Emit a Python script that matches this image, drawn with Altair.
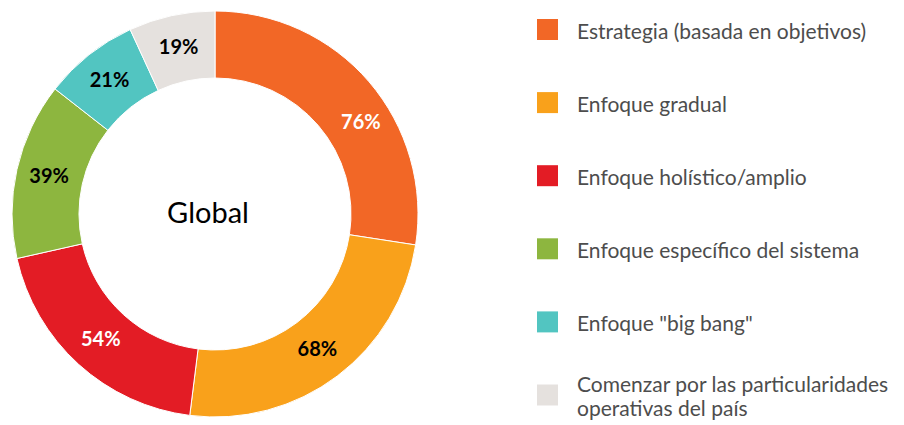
import altair as alt
import pandas as pd

categories = [
    "Estrategia (basada en objetivos)",
    "Enfoque gradual",
    "Enfoque holístico/amplio",
    "Enfoque específico del sistema",
    "Enfoque \"big bang\"",
    "Comenzar por las particularidades operativas del país",
]
legend_text = [
    "Estrategia (basada en objetivos)",
    "Enfoque gradual",
    "Enfoque holístico/amplio",
    "Enfoque específico del sistema",
    "Enfoque \"big bang\"",
    "Comenzar por las particularidades\noperativas del país",
]
values = [76, 68, 54, 39, 21, 19]
labels = ["76%", "68%", "54%", "39%", "21%", "19%"]
colors = ["#F26726", "#F9A11B", "#E31C25", "#8DB63F", "#52C5C1", "#E5E1DE"]
white_label_cats = [categories[0], categories[2]]

df = pd.DataFrame({"cat": categories, "value": values, "label": labels,
                   "legend": legend_text, "idx": list(range(len(categories)))})

CX, CY = 207, 206
LINE_H = 24

color_scale = alt.Scale(domain=categories, range=colors)

base = alt.Chart(df).encode(
    theta=alt.Theta("value:Q", stack=True),
    order=alt.Order("idx:Q"),
)

arcs = base.mark_arc(radius=203, radius2=136, stroke="white", strokeWidth=1).encode(
    x=alt.value(CX), y=alt.value(CY),
    color=alt.Color("cat:N", scale=color_scale, sort=categories, legend=None),
)

test = " || ".join([f"datum.cat == '{c}'" for c in white_label_cats])
label_color = alt.condition(test, alt.value("white"), alt.value("black"))

# regular slice labels (first one blanked, drawn in its own layer below)
texts = base.transform_calculate(
    txt="datum.idx == 0 ? '' : datum.label"
).mark_text(radius=170, font="Lato", fontSize=20, fontWeight="bold").encode(
    x=alt.value(CX), y=alt.value(CY), text="txt:N", color=label_color,
)
# first slice label sits a little further round the ring in the reference
texts_first = base.transform_calculate(
    txt="datum.idx == 0 ? datum.label : ''"
).mark_text(radius=172, thetaOffset=0.15, font="Lato", fontSize=20,
            fontWeight="bold").encode(
    x=alt.value(CX), y=alt.value(CY), text="txt:N", color=label_color,
)

center = alt.Chart(pd.DataFrame({"t": ["Global"]})).mark_text(
    font="Lato", fontSize=29, color="black"
).encode(x=alt.value(CX - 7), y=alt.value(CY), text="t:N")

ypos = alt.Y("idx:Q", scale=alt.Scale(domain=[0, 5], range=[21.5, 387]), axis=None)

leg_sym = alt.Chart(df).mark_square(size=441, opacity=1).encode(
    x=alt.value(539.5), y=ypos,
    color=alt.Color("cat:N", scale=color_scale, sort=categories, legend=None),
)

txt_base = alt.Chart(df).transform_calculate(
    nlines="length(split(datum.legend, '\\n'))"
)
txt_style = dict(align="left", baseline="middle", font="Lato", fontSize=21,
                 color="#4d4d4d", lineBreak="\n", lineHeight=LINE_H)

leg_txt1 = txt_base.transform_filter("datum.nlines == 1").mark_text(
    dy=3, **txt_style
).encode(x=alt.value(569), y=ypos, text="legend:N")

leg_txt2 = txt_base.transform_filter("datum.nlines == 2").mark_text(
    dy=3 - LINE_H / 2, **txt_style
).encode(x=alt.value(569), y=ypos, text="legend:N")

chart = alt.layer(arcs, texts, texts_first, center, leg_sym, leg_txt1, leg_txt2).properties(
    width=888, height=417, padding=0, autosize=alt.AutoSizeParams(type="none")
).configure_view(stroke=None)

chart.save("out.html", embed_options={"renderer": "svg", "actions": False})
